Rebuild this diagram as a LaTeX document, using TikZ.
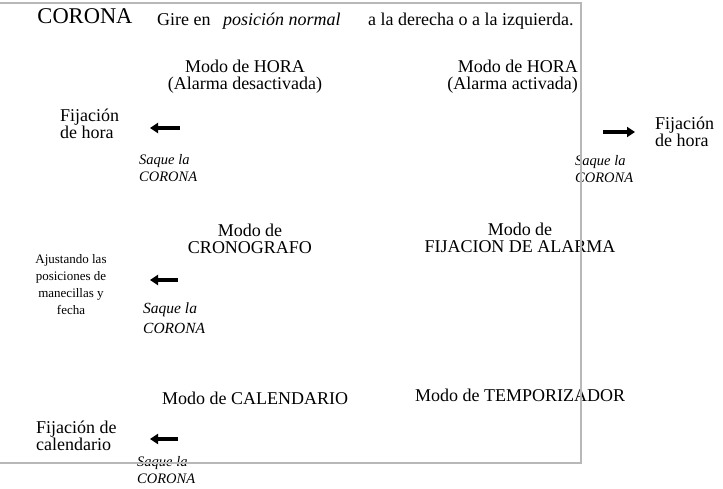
\documentclass[tikz,border=0pt]{standalone}
\usepackage{fontspec}
\setmainfont{Liberation Serif}
\usetikzlibrary{arrows.meta}
\begin{document}
\begin{tikzpicture}[x=1pt,y=-1pt,
		texto/.style={inner sep=0pt, align=center, font=\fontsize{18}{17}\selectfont},
		titulo/.style={inner sep=0pt, font=\fontsize{22.5}{24}\selectfont},
		saque/.style={inner sep=0pt, align=left, font=\fontsize{14.5}{16.5}\selectfont\itshape},
		mini/.style={inner sep=0pt, align=center, font=\fontsize{13}{16.7}\selectfont},
		flecha/.style={line width=3.5pt, -{Triangle[length=8pt,width=10pt]}},
		marco/.style={draw=black!28, line width=2pt}]
	\useasboundingbox (0,0) rectangle (723,488);
	% Encabezado
	\node[titulo, anchor=base] (corona) at (85,23) {CORONA};
	\node[texto, anchor=base west] (gire) at (157,25) {Gire en};
	\node[texto, anchor=base west] (posicion) at (223,25) {\itshape posición normal};
	\node[texto, anchor=base west] (derecha) at (368,25) {a la derecha o a la izquierda.};
	% Modos de hora
	\node[texto, anchor=base] (horaoff) at (245,89) {Modo de HORA\\(Alarma desactivada)};
	\node[texto, align=right, anchor=base east] (horaon) at (578,89) {Modo de HORA\\(Alarma activada)};
	\node[texto, align=left, anchor=base west] (fijhorai) at (60,138) {Fijación\\de hora};
	\node[texto, align=left, anchor=base west] (fijhorad) at (655,146) {Fijación\\de hora};
	\node[saque, anchor=base west] (saquei) at (139,181) {Saque la\\CORONA};
	\node[saque, anchor=base west] (saqued) at (575,182) {Saque la\\CORONA};
	% Cronografo y alarma
	\node[texto, anchor=base] (crono) at (250,253) {Modo de\\CRONOGRAFO};
	\node[texto, anchor=base] (alarma) at (520,252) {Modo de\\FIJACION DE ALARMA};
	\node[mini, anchor=base] (ajuste) at (71,314) {Ajustando las\\posiciones de\\manecillas y\\fecha};
	\node[saque, font=\fontsize{15.5}{20}\selectfont\itshape, anchor=base west] (saquec) at (143,333) {Saque la\\CORONA};
	% Calendario y temporizador
	\node[texto, anchor=base west] (calend) at (162,404) {Modo de CALENDARIO};
	\node[texto, anchor=base west] (tempo) at (415,401) {Modo de TEMPORIZADOR};
	\node[texto, align=left, anchor=base west] (fijcal) at (36,450) {Fijación de\\calendario};
	\node[saque, anchor=base west] (saquecal) at (137,483) {Saque la\\CORONA};
	% Flechas
	\coordinate (fi1) at (180,128); \coordinate (fi2) at (150,128);
	\coordinate (fd1) at (603,132); \coordinate (fd2) at (635,132);
	\coordinate (fc1) at (178,280); \coordinate (fc2) at (150,280);
	\coordinate (fk1) at (178,439); \coordinate (fk2) at (150,439);
	\draw[flecha] (fi1) -- (fi2);
	\draw[flecha] (fd1) -- (fd2);
	\draw[flecha] (fc1) -- (fc2);
	\draw[flecha] (fk1) -- (fk2);
	% Marco
	\draw[marco] (-5,3) rectangle (581,463);
\end{tikzpicture}
\end{document}
